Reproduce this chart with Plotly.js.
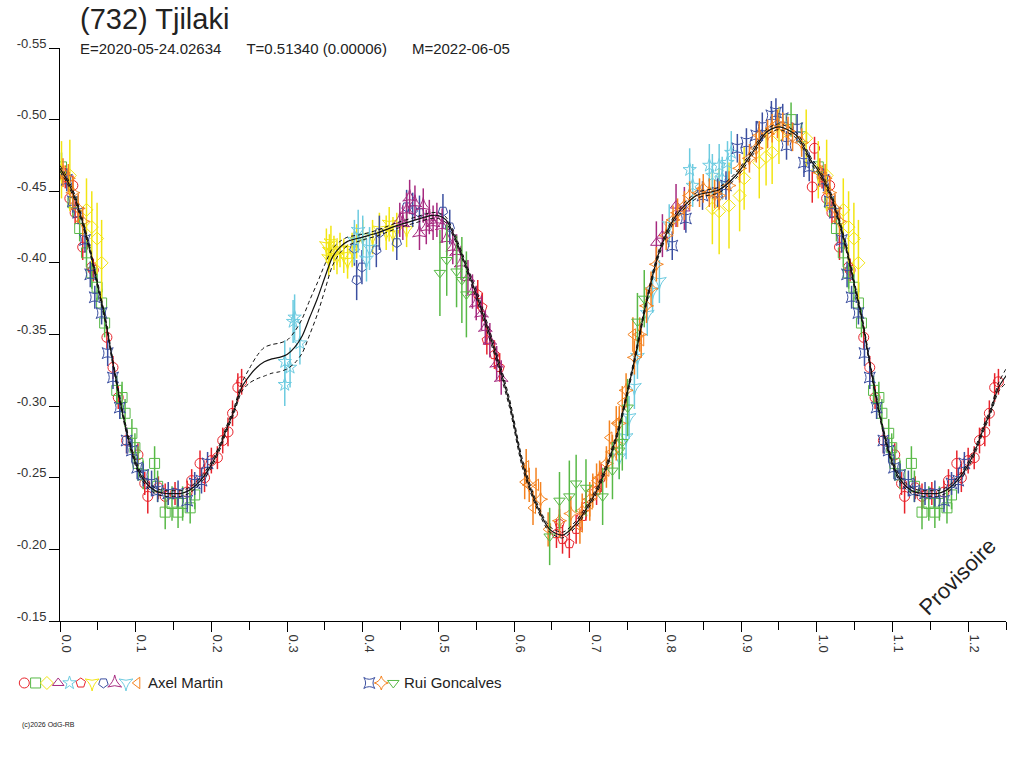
<!DOCTYPE html>
<html><head><meta charset="utf-8">
<script src="https://cdn.plot.ly/plotly-3.0.1.min.js"></script>
<style>html,body{margin:0;padding:0;background:#fff}#c{width:1024px;height:768px}</style>
</head><body><div id="c"></div>
<script>
// ---------- data ----------
var observers = ["Axel Martin", "Rui Goncalves"];
var sessionObserver = [0,0,0,0,0,0,0,0,0,0,0,1,1,1];
var sessionColor = ["#e8232b","#58b947","#f2e512","#a6297f","#6dcbe0","#e8232b","#f2e512","#3b4fa0","#a6297f","#6dcbe0","#f4821f","#3b4fa0","#f4821f","#58b947"];
var sessionSymbol = ["circle-open","square-open","diamond-open","triangle-up-open","star-open","pentagon-open","star-triangle-down-open","pentagon-open","star-triangle-up-open","star-triangle-down-open","triangle-left-open","star-square-open","star-diamond-open","triangle-down-open"];
var sessionAngle = [0,0,0,0,0,0,0,180,0,0,0,0,0,0];

var ph1 = [0.007,0.013,0.017,0.020,0.030,0.042,0.044,0.062,0.070,0.077,0.088,0.103,0.112,0.116,0.130,0.139,0.152,0.168,0.174,0.185,0.191,0.200,0.208,0.215,0.222,0.228,0.235,0.240,0.994,0.997];
var mag1 = [-0.460,-0.445,-0.454,-0.435,-0.411,-0.397,-0.395,-0.348,-0.327,-0.306,-0.276,-0.266,-0.246,-0.237,-0.243,-0.237,-0.239,-0.240,-0.248,-0.260,-0.250,-0.262,-0.264,-0.276,-0.282,-0.295,-0.313,-0.317,-0.453,-0.480];
var err1 = [0.008,0.008,0.007,0.008,0.009,0.008,0.008,0.008,0.008,0.008,0.009,0.008,0.008,0.012,0.008,0.009,0.008,0.008,0.008,0.009,0.010,0.009,0.008,0.009,0.010,0.009,0.010,0.009,0.011,0.008];

var ph2 = [0.002,0.017,0.026,0.035,0.042,0.049,0.055,0.059,0.075,0.082,0.086,0.095,0.099,0.103,0.110,0.125,0.129,0.139,0.148,0.156,0.162,0.172,0.178,0.966,0.980];
var mag2 = [-0.467,-0.442,-0.424,-0.407,-0.393,-0.383,-0.372,-0.358,-0.311,-0.306,-0.295,-0.281,-0.271,-0.260,-0.252,-0.260,-0.244,-0.226,-0.232,-0.226,-0.232,-0.229,-0.238,-0.500,-0.488];
var err2 = [0.010,0.010,0.009,0.010,0.011,0.010,0.010,0.010,0.010,0.011,0.010,0.010,0.010,0.012,0.010,0.012,0.011,0.012,0.012,0.011,0.012,0.011,0.010,0.012,0.010];

var ph3 = [0.002,0.013,0.035,0.042,0.049,0.055,0.862,0.871,0.884,0.898,0.904,0.924,0.933,0.941,0.950,0.986];
var mag3 = [-0.465,-0.461,-0.437,-0.425,-0.417,-0.400,-0.438,-0.436,-0.440,-0.447,-0.459,-0.470,-0.474,-0.477,-0.489,-0.487];
var err3 = [0.020,0.025,0.022,0.025,0.025,0.030,0.025,0.030,0.030,0.025,0.022,0.025,0.020,0.022,0.020,0.020];

var ph4 = [0.788,0.796,0.814,0.825];
var mag4 = [-0.414,-0.419,-0.440,-0.438];
var err4 = [0.015,0.015,0.015,0.015];

var ph5 = [0.297,0.297,0.304,0.308,0.310,0.317,0.832,0.836,0.858,0.862,0.871,0.875,0.882,0.887];
var mag5 = [-0.331,-0.315,-0.327,-0.359,-0.362,-0.344,-0.465,-0.454,-0.468,-0.461,-0.468,-0.459,-0.470,-0.477];
var err5 = [0.015,0.015,0.014,0.015,0.016,0.015,0.015,0.015,0.015,0.015,0.015,0.015,0.015,0.015];

var ph6 = [0.552,0.558,0.564,0.574,0.581,0.656,0.660,0.664,0.673,0.682,0.690,0.695,0.709,0.715];
var mag6 = [-0.378,-0.369,-0.346,-0.336,-0.327,-0.211,-0.218,-0.207,-0.204,-0.214,-0.223,-0.230,-0.241,-0.250];
var err6 = [0.010,0.010,0.010,0.010,0.010,0.010,0.010,0.010,0.010,0.010,0.010,0.010,0.010,0.010];

var ph7 = [0.352,0.356,0.355,0.358,0.362,0.366,0.370,0.375,0.380,0.386,0.392,0.400,0.413,0.422,0.431,0.435,0.440,0.445,0.458];
var mag7 = [-0.412,-0.408,-0.403,-0.414,-0.407,-0.404,-0.409,-0.405,-0.401,-0.409,-0.415,-0.418,-0.418,-0.423,-0.421,-0.427,-0.420,-0.423,-0.423];
var err7 = [0.012,0.012,0.012,0.012,0.012,0.012,0.012,0.012,0.012,0.012,0.012,0.012,0.012,0.012,0.012,0.012,0.012,0.012,0.012];

var ph8 = [0.389,0.392,0.399,0.418,0.422,0.445,0.458,0.466,0.475,0.506,0.515];
var mag8 = [-0.410,-0.388,-0.397,-0.409,-0.421,-0.414,-0.439,-0.437,-0.435,-0.436,-0.425];
var err8 = [0.012,0.014,0.012,0.012,0.012,0.012,0.012,0.012,0.012,0.012,0.012];

var ph9 = [0.449,0.453,0.458,0.462,0.469,0.475,0.480,0.484,0.488,0.493,0.498,0.505,0.511,0.519,0.524,0.530,0.539,0.545,0.550,0.557,0.562,0.568,0.577,0.583];
var mag9 = [-0.430,-0.428,-0.437,-0.446,-0.442,-0.421,-0.440,-0.425,-0.432,-0.428,-0.430,-0.426,-0.417,-0.411,-0.408,-0.400,-0.390,-0.380,-0.372,-0.365,-0.355,-0.346,-0.330,-0.320];
var err9 = [0.012,0.012,0.012,0.012,0.012,0.012,0.012,0.012,0.012,0.012,0.012,0.012,0.012,0.012,0.012,0.012,0.012,0.012,0.012,0.012,0.012,0.012,0.012,0.012];

var ph10 = [0.389,0.394,0.400,0.405,0.409,0.739,0.748,0.752,0.759,0.763,0.776,0.783,0.792,0.805];
var mag10 = [-0.415,-0.422,-0.418,-0.402,-0.410,-0.264,-0.278,-0.292,-0.313,-0.334,-0.364,-0.380,-0.387,-0.426];
var err10 = [0.015,0.015,0.015,0.015,0.015,0.015,0.015,0.015,0.015,0.015,0.015,0.015,0.015,0.015];

var ph11 = [0.614,0.616,0.625,0.629,0.645,0.687,0.700,0.709,0.722,0.726,0.735,0.743,0.757,0.768];
var mag11 = [-0.247,-0.258,-0.229,-0.245,-0.214,-0.216,-0.232,-0.248,-0.255,-0.278,-0.288,-0.302,-0.350,-0.346];
var err11 = [0.012,0.012,0.012,0.012,0.012,0.012,0.012,0.012,0.012,0.012,0.012,0.012,0.012,0.012];

var ph12 = [0.009,0.017,0.024,0.033,0.040,0.046,0.055,0.063,0.070,0.079,0.088,0.095,0.102,0.110,0.121,0.129,0.143,0.156,0.168,0.178,0.187,0.195,0.809,0.827,0.849,0.869,0.880,0.895,0.907,0.920,0.928,0.940,0.946,0.955,0.960,0.974,0.983,0.990];
var mag12 = [-0.458,-0.443,-0.435,-0.416,-0.392,-0.376,-0.365,-0.337,-0.320,-0.299,-0.276,-0.269,-0.257,-0.252,-0.246,-0.241,-0.239,-0.239,-0.234,-0.246,-0.248,-0.260,-0.412,-0.431,-0.447,-0.449,-0.454,-0.480,-0.484,-0.489,-0.495,-0.503,-0.505,-0.501,-0.482,-0.494,-0.470,-0.467];
var err12 = [0.008,0.008,0.008,0.009,0.009,0.008,0.008,0.009,0.008,0.008,0.009,0.008,0.008,0.008,0.009,0.008,0.008,0.009,0.008,0.008,0.009,0.008,0.010,0.010,0.010,0.010,0.010,0.010,0.010,0.010,0.010,0.010,0.010,0.010,0.010,0.010,0.010,0.010];

var ph13 = [0.004,0.011,0.017,0.024,0.030,0.620,0.635,0.660,0.675,0.690,0.700,0.704,0.713,0.722,0.730,0.735,0.739,0.748,0.759,0.766,0.775,0.781,0.788,0.801,0.810,0.816,0.825,0.832,0.845,0.850,0.858,0.865,0.871,0.884,0.898,0.911,0.920,0.924,0.935,0.941,0.948,0.955,0.962,0.968,0.980];
var mag13 = [-0.463,-0.459,-0.449,-0.438,-0.429,-0.245,-0.235,-0.220,-0.225,-0.227,-0.235,-0.241,-0.250,-0.260,-0.268,-0.274,-0.288,-0.311,-0.334,-0.350,-0.370,-0.382,-0.399,-0.419,-0.430,-0.435,-0.440,-0.447,-0.449,-0.452,-0.449,-0.448,-0.447,-0.454,-0.466,-0.473,-0.480,-0.489,-0.490,-0.494,-0.497,-0.495,-0.492,-0.488,-0.484];
var err13 = [0.010,0.010,0.010,0.010,0.010,0.012,0.012,0.012,0.012,0.012,0.012,0.012,0.012,0.012,0.012,0.012,0.012,0.012,0.012,0.012,0.012,0.012,0.012,0.010,0.010,0.010,0.010,0.010,0.010,0.010,0.010,0.010,0.010,0.010,0.010,0.010,0.010,0.010,0.010,0.010,0.010,0.010,0.010,0.010,0.010];

var ph14 = [0.502,0.511,0.524,0.531,0.537,0.647,0.660,0.673,0.682,0.695,0.717,0.730,0.739,0.743,0.750,0.763,0.772];
var mag14 = [-0.393,-0.402,-0.394,-0.388,-0.378,-0.209,-0.234,-0.237,-0.246,-0.243,-0.237,-0.255,-0.269,-0.275,-0.299,-0.359,-0.375];
var err14 = [0.030,0.025,0.025,0.030,0.030,0.020,0.020,0.025,0.020,0.020,0.020,0.020,0.020,0.020,0.020,0.020,0.020];

// fitted curve (phase, magnitude, envelope half-width)
var fitPh = [0,0.01,0.02,0.03,0.04,0.05,0.06,0.07,0.08,0.09,0.10,0.11,0.12,0.13,0.14,0.15,0.16,0.17,0.18,0.19,0.20,0.21,0.22,0.23,0.24,0.25,0.26,0.27,0.28,0.29,0.30,0.31,0.32,0.33,0.34,0.35,0.36,0.37,0.38,0.40,0.42,0.445,0.47,0.49,0.50,0.51,0.52,0.532,0.554,0.577,0.594,0.611,0.629,0.647,0.664,0.682,0.709,0.735,0.757,0.775,0.792,0.814,0.841,0.871,0.893,0.915,0.933,0.950,0.973,0.994,1.0];
var fitMag = [-0.466,-0.457,-0.445,-0.428,-0.408,-0.384,-0.360,-0.330,-0.302,-0.278,-0.260,-0.249,-0.243,-0.240,-0.239,-0.239,-0.239,-0.241,-0.245,-0.251,-0.259,-0.270,-0.284,-0.297,-0.313,-0.321,-0.327,-0.331,-0.333,-0.334,-0.336,-0.341,-0.349,-0.362,-0.375,-0.390,-0.404,-0.411,-0.415,-0.418,-0.421,-0.426,-0.430,-0.433,-0.433,-0.430,-0.420,-0.404,-0.372,-0.334,-0.302,-0.260,-0.232,-0.214,-0.210,-0.218,-0.241,-0.278,-0.327,-0.373,-0.408,-0.433,-0.447,-0.451,-0.461,-0.477,-0.491,-0.495,-0.489,-0.470,-0.466];
var fitErr = [0.002,0.002,0.002,0.002,0.002,0.002,0.002,0.002,0.002,0.002,0.002,0.002,0.002,0.002,0.002,0.002,0.002,0.002,0.002,0.002,0.002,0.002,0.002,0.002,0.003,0.005,0.008,0.010,0.010,0.010,0.010,0.011,0.012,0.012,0.011,0.009,0.006,0.004,0.003,0.002,0.002,0.002,0.002,0.002,0.002,0.002,0.002,0.002,0.003,0.003,0.003,0.003,0.002,0.002,0.002,0.002,0.002,0.002,0.002,0.002,0.002,0.002,0.002,0.002,0.002,0.002,0.002,0.002,0.002,0.002,0.002];

var xTickVals = [0,0.1,0.2,0.3,0.4,0.5,0.6,0.7,0.8,0.9,1.0,1.1,1.2];
var xTickText = ["0.0","0.1","0.2","0.3","0.4","0.5","0.6","0.7","0.8","0.9","1.0","1.1","1.2"];
var yTickVals = [-0.55,-0.50,-0.45,-0.40,-0.35,-0.30,-0.25,-0.20,-0.15];
var yTickText = ["-0.55","-0.50","-0.45","-0.40","-0.35","-0.30","-0.25","-0.20","-0.15"];

var titleText = "(732) Tjilaki";
var subParts = ["E=2020-05-24.02634", "T=0.51340 (0.00006)", "M=2022-06-05"];

// ---------- build ----------
var PH = [ph1,ph2,ph3,ph4,ph5,ph6,ph7,ph8,ph9,ph10,ph11,ph12,ph13,ph14];
var MAG = [mag1,mag2,mag3,mag4,mag5,mag6,mag7,mag8,mag9,mag10,mag11,mag12,mag13,mag14];
var ERR = [err1,err2,err3,err4,err5,err6,err7,err8,err9,err10,err11,err12,err13,err14];

// phases 0..0.25 are shown a second time at 1..1.25
function wrap(p, m, e){
  var X=p.slice(), Y=m.slice(), E=e.slice();
  for (var i=0;i<p.length;i++){ if (p[i] <= 0.26){ X.push(p[i]+1); Y.push(m[i]); E.push(e[i]); } }
  return [X,Y,E];
}

var traces = [];
for (var s=0;s<PH.length;s++){
  var w = wrap(PH[s], MAG[s], ERR[s]);
  traces.push({
    x:w[0], y:w[1], type:'scatter', mode:'markers', xaxis:'x', yaxis:'y',
    marker:{symbol:sessionSymbol[s], angle:sessionAngle[s], size:10, color:sessionColor[s], line:{width:1, color:sessionColor[s]}},
    error_y:{type:'data', array:w[2], visible:true, color:sessionColor[s], thickness:1.5, width:0},
    showlegend:false, hoverinfo:'none'
  });
}

// fit curve + envelope
var fx=[], fy=[], fhi=[], flo=[];
for (var i=0;i<fitPh.length;i++){ fx.push(fitPh[i]); fy.push(fitMag[i]); fhi.push(fitMag[i]-fitErr[i]); flo.push(fitMag[i]+fitErr[i]); }
for (var i=1;i<fitPh.length;i++){ if (fitPh[i] <= 0.27){ fx.push(fitPh[i]+1); fy.push(fitMag[i]); fhi.push(fitMag[i]-fitErr[i]); flo.push(fitMag[i]+fitErr[i]); } }
traces.push({x:fx, y:fhi, type:'scatter', mode:'lines', line:{color:'#111', width:1, dash:'4px,3px', shape:'spline', smoothing:0.8}, showlegend:false, hoverinfo:'none'});
traces.push({x:fx, y:flo, type:'scatter', mode:'lines', line:{color:'#111', width:1, dash:'4px,3px', shape:'spline', smoothing:0.8}, showlegend:false, hoverinfo:'none'});
traces.push({x:fx, y:fy, type:'scatter', mode:'lines', line:{color:'#111', width:1.2, shape:'spline', smoothing:0.8}, showlegend:false, hoverinfo:'none'});

// custom legend row (symbols grouped by observer)
var legX=[], legY=[], legSym=[], legCol=[], legAng=[];
var groupStart = [24.3, 369.3], groupStep = [11.3, 12.0];
var cnt = [0,0];
for (var s=0;s<sessionObserver.length;s++){
  var g = sessionObserver[s];
  legX.push(groupStart[g] + groupStep[g]*cnt[g]); cnt[g]++;
  legY.push(0.5); legSym.push(sessionSymbol[s]); legCol.push(sessionColor[s]); legAng.push(sessionAngle[s]);
}
traces.push({x:legX, y:legY, type:'scatter', mode:'markers', xaxis:'x2', yaxis:'y2',
  marker:{symbol:legSym, angle:legAng, size:10, color:legCol, line:{width:1, color:legCol}}, showlegend:false, hoverinfo:'none'});

var annotations = [];
for (var g=0; g<observers.length; g++){
  annotations.push({xref:'x2', yref:'y2', x:groupStart[g] + groupStep[g]*(cnt[g]-1) + 9, y:0.5, xanchor:'left', yanchor:'middle',
    text:observers[g], showarrow:false, font:{family:'Liberation Sans, Arial, sans-serif', size:15, color:'#222'}});
}
var gap = '&nbsp;&nbsp;&nbsp;&nbsp;&nbsp;&nbsp;';
annotations.push({xref:'paper', yref:'paper', x:0.0683, y:1.041, xanchor:'left', yanchor:'middle', text:titleText, showarrow:false,
  font:{family:'Liberation Sans, Arial, sans-serif', size:29, color:'#222'}});
annotations.push({xref:'paper', yref:'paper', x:0.0683, y:1.0, xanchor:'left', yanchor:'middle', text:subParts.join(gap), showarrow:false,
  font:{family:'Liberation Sans, Arial, sans-serif', size:15, color:'#222'}});
annotations.push({xref:'paper', yref:'paper', x:0.9518, y:0.2443, xanchor:'center', yanchor:'middle', text:'Provisoire', textangle:-45, showarrow:false,
  font:{family:'Liberation Sans, Arial, sans-serif', size:22, color:'#222'}});
annotations.push({xref:'paper', yref:'paper', x:0.01, y:0.033, xanchor:'left', yanchor:'middle', text:'(c)2026 OdG-RB', showarrow:false,
  font:{family:'Liberation Sans, Arial, sans-serif', size:7, color:'#222'}});

var tickFont = {family:'Liberation Sans, Arial, sans-serif', size:13, color:'#333'};
var layout = {
  width:1024, height:768,
  margin:{l:10, r:18, t:48, b:20, pad:0},
  paper_bgcolor:'#fff', plot_bgcolor:'#fff',
  showlegend:false,
  xaxis:{domain:[0.050201,1], range:[0,1.25], showgrid:false, zeroline:false, showline:true, linecolor:'#000', linewidth:1,
    ticks:'outside', ticklen:10, tickcolor:'#000', tickwidth:1, tickmode:'array', tickvals:xTickVals, ticktext:xTickText,
    tickangle:90, tickfont:tickFont, ticklabelshift:6, anchor:'y',
    minor:{tickmode:'linear', tick0:0.05, dtick:0.1, ticks:'outside', ticklen:8, tickcolor:'#000', tickwidth:1, showgrid:false}},
  yaxis:{domain:[0.18143,1], range:[-0.15,-0.55], showgrid:false, zeroline:false, showline:true, linecolor:'#000', linewidth:1,
    ticks:'outside', ticklen:10, tickcolor:'#000', tickwidth:1, tickmode:'array', tickvals:yTickVals, ticktext:yTickText,
    tickfont:tickFont, ticklabelshift:5, anchor:'x'},
  xaxis2:{domain:[0,1], range:[10,1006], visible:false, anchor:'y2', fixedrange:true},
  yaxis2:{domain:[0.0729,0.1129], range:[0,1], visible:false, anchor:'x2', fixedrange:true},
  annotations:annotations
};
Plotly.newPlot('c', traces, layout, {staticPlot:true, displayModeBar:false});
</script></body></html>
